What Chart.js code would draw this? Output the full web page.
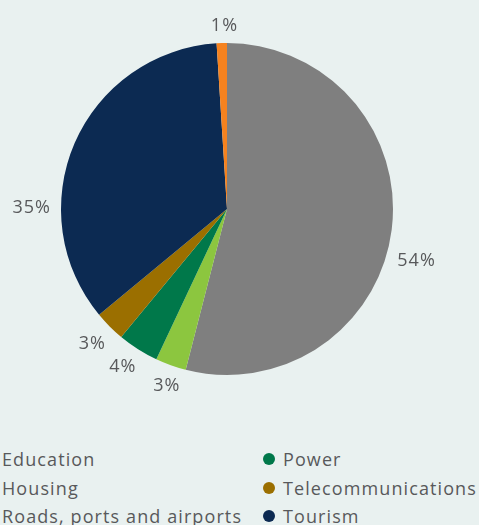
<!DOCTYPE html>
<html>
<head>
<meta charset="utf-8">
<script src="https://cdn.jsdelivr.net/npm/chart.js@4/dist/chart.umd.min.js"></script>
<style>
  html, body { margin: 0; padding: 0; }
  body {
    width: 479px; height: 525px; overflow: hidden;
    background: #e9f1f0;
    font-family: "Open Sans", sans-serif;
    position: relative;
  }
  .chart-box { position: absolute; left: 0; top: 0; width: 479px; height: 420px; }
  .legend {
    position: absolute; left: -18px; top: 445px;
    display: grid; grid-template-columns: 281px 240px;
    row-gap: 0; color: #58595b; font-size: 18px; letter-spacing: 1.1px;
  }
  .legend .item { display: flex; align-items: center; height: 28.5px; white-space: nowrap; }
  .legend .dot { width: 12px; height: 12px; border-radius: 50%; margin-right: 8px; flex: none; }
</style>
</head>
<body>
<div class="chart-box"><canvas id="pieChart"></canvas></div>
<div class="legend" id="legend"></div>
<script>
// Sectors, in the order they go round the pie from 12 o'clock
const sectors = ['Roads, ports and airports', 'Education', 'Power', 'Telecommunications', 'Tourism', 'Housing'];
const shares = [54, 3, 4, 3, 35, 1];
const colours = ['#7f7f7f', '#8cc63f', '#00784a', '#9b6f00', '#0c2a52', '#f5821f'];
// Legend reads row by row in two columns
const legendOrder = ['Education', 'Power', 'Housing', 'Telecommunications', 'Roads, ports and airports', 'Tourism'];
// Small angle tweaks (degrees) for the percentage labels
const labelNudge = [8, -1, 1, 0, -23, 1];

const labelFont = '18px "Open Sans", sans-serif';

// Percentage labels outside each slice
const outsideLabels = {
    id: 'outsideLabels',
    afterDatasetsDraw(chart) {
        const ctx = chart.ctx;
        const meta = chart.getDatasetMeta(0);
        ctx.save();
        ctx.font = labelFont;
        ctx.letterSpacing = '1px';
        ctx.fillStyle = '#58595b';
        ctx.textAlign = 'center';
        ctx.textBaseline = 'middle';
        meta.data.forEach((arc, i) => {
            const p = arc.getProps(['x', 'y', 'startAngle', 'endAngle', 'outerRadius'], true);
            const mid = (p.startAngle + p.endAngle) / 2 + labelNudge[i] * Math.PI / 180;
            const text = shares[i] + '%';
            const halfW = ctx.measureText(text).width / 2;
            const halfH = 7;
            const dist = p.outerRadius + 10 + Math.abs(Math.cos(mid)) * halfW + Math.abs(Math.sin(mid)) * halfH;
            ctx.fillText(text, p.x + Math.cos(mid) * dist, p.y + Math.sin(mid) * dist);
        });
        ctx.restore();
    }
};

document.addEventListener('DOMContentLoaded', function() {
    const ctx = document.getElementById('pieChart').getContext('2d');
    new Chart(ctx, {
        type: 'pie',
        data: {
            labels: sectors,
            datasets: [{
                data: shares,
                backgroundColor: colours,
                borderWidth: 0
            }]
        },
        options: {
            responsive: true,
            maintainAspectRatio: false,
            animation: false,
            layout: { padding: { left: 61, right: 86, top: 43, bottom: 45 } },
            plugins: {
                legend: { display: false },
                tooltip: { enabled: false }
            }
        },
        plugins: [outsideLabels]
    });

    // Build the two-column legend
    const legend = document.getElementById('legend');
    legendOrder.forEach(name => {
        const idx = sectors.indexOf(name);
        const item = document.createElement('div');
        item.className = 'item';
        const dot = document.createElement('span');
        dot.className = 'dot';
        dot.style.background = colours[idx];
        item.appendChild(dot);
        item.appendChild(document.createTextNode(name));
        legend.appendChild(item);
    });
});
</script>
</body>
</html>
